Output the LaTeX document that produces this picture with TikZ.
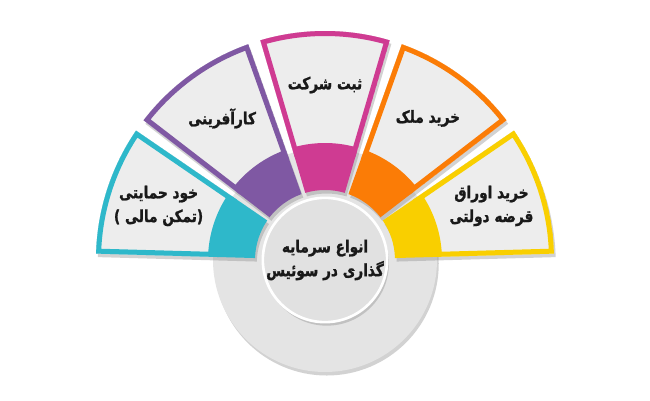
\documentclass[tikz,border=0pt]{standalone}
\usepackage{fontspec}
\usetikzlibrary{shadows}
\newfontfamily\arabicfont[Script=Arabic, FakeStretch=0.82, BoldFeatures={FakeBold=1.2}]{DejaVu Sans}
\TeXXeTstate=1
\definecolor{segteal}{HTML}{2EB8CA}
\definecolor{segpurple}{HTML}{7F58A3}
\definecolor{segpink}{HTML}{CF3B92}
\definecolor{segorange}{HTML}{FB7C06}
\definecolor{segyellow}{HTML}{F9CF00}
\definecolor{panelgray}{HTML}{EDEDED}
\definecolor{discgray}{HTML}{E4E4E4}
\definecolor{hubgray}{HTML}{E1E1E1}
\tikzset{
  shade box/.style={drop shadow={opacity=0.35, shadow xshift=1pt, shadow yshift=-2pt}},
  lbl/.style={font=\arabicfont\bfseries\fontsize{9.5}{13.5}\selectfont, align=center, text=black!90},
}

\begin{document}
\begin{tikzpicture}[x=0.02cm, y=0.02cm]
    % Background
    \fill[white] (0,0) rectangle (650,400);
    \useasboundingbox (0,0) rectangle (650,400);
    \begin{scope}[shift={(325,140)}]
        % Gray disc
        \fill[discgray, shade box] (0,0) circle[radius=112];
        % Coloured sectors with light panels
        \foreach \a/\c in {18/segyellow, 54/segorange, 90/segpink, 126/segpurple, 162/segteal}{
            \fill[\c, shade box] ({\a-16.4}:70) -- ({\a-16.4}:229) arc[start angle=\a-16.4, end angle=\a+16.4, radius=229]
                -- ({\a+16.4}:70) arc[start angle=\a+16.4, end angle=\a-16.4, radius=70] -- cycle;
            \begin{scope}
                \clip ({\a-16.4}:70) -- ({\a-16.4}:229) arc[start angle=\a-16.4, end angle=\a+16.4, radius=229]
                    -- ({\a+16.4}:70) arc[start angle=\a+16.4, end angle=\a-16.4, radius=70] -- cycle;
                \filldraw[fill=panelgray, draw=\c, line width=0.2cm] ({\a-16.4}:112) -- ({\a-16.4}:229)
                    arc[start angle=\a-16.4, end angle=\a+16.4, radius=229]
                    -- ({\a+16.4}:112) arc[start angle=\a+16.4, end angle=\a-16.4, radius=112] -- cycle;
            \end{scope}
        }
        % Labels on the panels
        \foreach \a/\t in {18/{\beginR خرید اوراق\endR\\\beginR قرضه دولتی\endR},
                           54/{\beginR خرید ملک\endR},
                           90/{\beginR ثبت شرکت\endR},
                           126/{\beginR کارآفرینی\endR},
                           162/{\beginR خود حمایتی\endR\\\beginR (تمکن مالی )\endR}}{
            \node[lbl] (lbl-\a) at (\a:175) {\t};
        }
        % Hub
        \node[circle, minimum size=2.48cm, inner sep=0pt, fill=hubgray, draw=white, line width=1.5pt, shade box, lbl] (hub) at (0,0)
            {\beginR انواع سرمایه\endR\\\beginR گذاری در سوئیس\endR};
    \end{scope}
\end{tikzpicture}
\end{document}
